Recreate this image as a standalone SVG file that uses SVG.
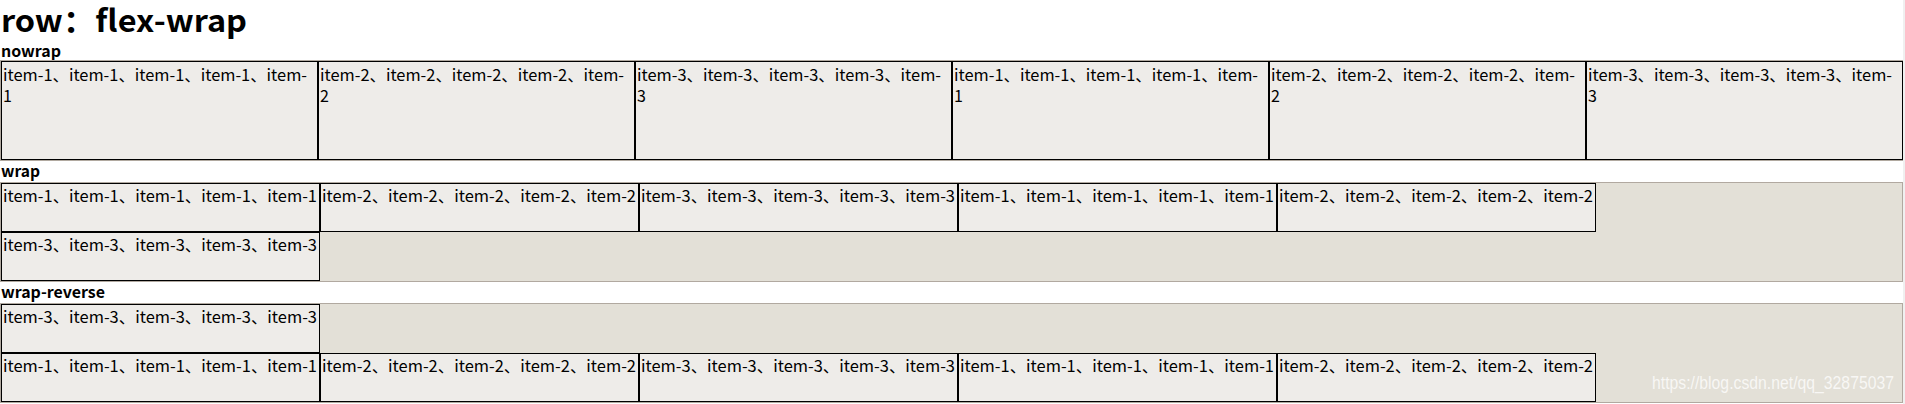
<svg xmlns="http://www.w3.org/2000/svg" width="1905" height="404" viewBox="0 0 1905 404">
<style>
.t{font-family:"Microsoft YaHei","Noto Sans CJK SC","Noto Sans",sans-serif;fill:#000}
.h1{font-size:31px;font-weight:bold}
.h3{font-size:16px;font-weight:bold}
.it{font-size:16px}
.box{fill:#e3e0d7;stroke:#b1a9a0;stroke-width:1}
.item{fill:#eeece9;stroke:#000;stroke-width:1}
.wm{font-family:"Liberation Sans",Arial,sans-serif;font-size:18px;fill:#ffffff;fill-opacity:0.75}
</style>
<rect x="0" y="0" width="1905" height="404" fill="#ffffff"/>
<rect x="1903" y="0" width="2" height="404" fill="#f0f0f0"/>
<g id="title"><text class="t h1" x="1" y="32" textLength="246" lengthAdjust="spacingAndGlyphs">row：flex-wrap</text></g>

<g id="nowrap">
<text class="t h3" x="1" y="56.5" textLength="60" lengthAdjust="spacingAndGlyphs">nowrap</text>
<rect class="box" x="0.5" y="60.5" width="1902" height="100"/>
<g id="nw-1"><rect class="item" x="1.5" y="61.5" width="316" height="98"/><text class="t it" x="3" y="81" textLength="304" lengthAdjust="spacingAndGlyphs">item-1、item-1、item-1、item-1、item-</text><text class="t it" x="3" y="102">1</text></g>
<g id="nw-2"><rect class="item" x="318.5" y="61.5" width="316" height="98"/><text class="t it" x="320" y="81" textLength="304" lengthAdjust="spacingAndGlyphs">item-2、item-2、item-2、item-2、item-</text><text class="t it" x="320" y="102">2</text></g>
<g id="nw-3"><rect class="item" x="635.5" y="61.5" width="316" height="98"/><text class="t it" x="637" y="81" textLength="304" lengthAdjust="spacingAndGlyphs">item-3、item-3、item-3、item-3、item-</text><text class="t it" x="637" y="102">3</text></g>
<g id="nw-4"><rect class="item" x="952.5" y="61.5" width="316" height="98"/><text class="t it" x="954" y="81" textLength="304" lengthAdjust="spacingAndGlyphs">item-1、item-1、item-1、item-1、item-</text><text class="t it" x="954" y="102">1</text></g>
<g id="nw-5"><rect class="item" x="1269.5" y="61.5" width="316" height="98"/><text class="t it" x="1271" y="81" textLength="304" lengthAdjust="spacingAndGlyphs">item-2、item-2、item-2、item-2、item-</text><text class="t it" x="1271" y="102">2</text></g>
<g id="nw-6"><rect class="item" x="1586.5" y="61.5" width="316" height="98"/><text class="t it" x="1588" y="81" textLength="304" lengthAdjust="spacingAndGlyphs">item-3、item-3、item-3、item-3、item-</text><text class="t it" x="1588" y="102">3</text></g>
</g>

<g id="wrap">
<text class="t h3" x="1" y="176.5" textLength="39" lengthAdjust="spacingAndGlyphs">wrap</text>
<rect class="box" x="0.5" y="182.5" width="1902" height="99"/>
<g id="w-1"><rect class="item" x="1.5" y="183.5" width="318" height="48"/><text class="t it" x="3" y="202" textLength="314" lengthAdjust="spacingAndGlyphs">item-1、item-1、item-1、item-1、item-1</text></g>
<g id="w-2"><rect class="item" x="320.5" y="183.5" width="318" height="48"/><text class="t it" x="322" y="202" textLength="314" lengthAdjust="spacingAndGlyphs">item-2、item-2、item-2、item-2、item-2</text></g>
<g id="w-3"><rect class="item" x="639.5" y="183.5" width="318" height="48"/><text class="t it" x="641" y="202" textLength="314" lengthAdjust="spacingAndGlyphs">item-3、item-3、item-3、item-3、item-3</text></g>
<g id="w-4"><rect class="item" x="958.5" y="183.5" width="318" height="48"/><text class="t it" x="960" y="202" textLength="314" lengthAdjust="spacingAndGlyphs">item-1、item-1、item-1、item-1、item-1</text></g>
<g id="w-5"><rect class="item" x="1277.5" y="183.5" width="318" height="48"/><text class="t it" x="1279" y="202" textLength="314" lengthAdjust="spacingAndGlyphs">item-2、item-2、item-2、item-2、item-2</text></g>
<g id="w-6"><rect class="item" x="1.5" y="232.5" width="318" height="48"/><text class="t it" x="3" y="251" textLength="314" lengthAdjust="spacingAndGlyphs">item-3、item-3、item-3、item-3、item-3</text></g>
</g>

<g id="wrap-reverse">
<text class="t h3" x="1" y="298" textLength="104" lengthAdjust="spacingAndGlyphs">wrap-reverse</text>
<rect class="box" x="0.5" y="303.5" width="1902" height="99"/>
<g id="wr-6"><rect class="item" x="1.5" y="304.5" width="318" height="48"/><text class="t it" x="3" y="323" textLength="314" lengthAdjust="spacingAndGlyphs">item-3、item-3、item-3、item-3、item-3</text></g>
<g id="wr-1"><rect class="item" x="1.5" y="353.5" width="318" height="48"/><text class="t it" x="3" y="372" textLength="314" lengthAdjust="spacingAndGlyphs">item-1、item-1、item-1、item-1、item-1</text></g>
<g id="wr-2"><rect class="item" x="320.5" y="353.5" width="318" height="48"/><text class="t it" x="322" y="372" textLength="314" lengthAdjust="spacingAndGlyphs">item-2、item-2、item-2、item-2、item-2</text></g>
<g id="wr-3"><rect class="item" x="639.5" y="353.5" width="318" height="48"/><text class="t it" x="641" y="372" textLength="314" lengthAdjust="spacingAndGlyphs">item-3、item-3、item-3、item-3、item-3</text></g>
<g id="wr-4"><rect class="item" x="958.5" y="353.5" width="318" height="48"/><text class="t it" x="960" y="372" textLength="314" lengthAdjust="spacingAndGlyphs">item-1、item-1、item-1、item-1、item-1</text></g>
<g id="wr-5"><rect class="item" x="1277.5" y="353.5" width="318" height="48"/><text class="t it" x="1279" y="372" textLength="314" lengthAdjust="spacingAndGlyphs">item-2、item-2、item-2、item-2、item-2</text></g>
</g>

<g id="connectors"/>
<g id="watermark"><text class="wm" x="1652" y="389" textLength="242" lengthAdjust="spacingAndGlyphs">https://blog.csdn.net/qq_32875037</text></g>
</svg>
